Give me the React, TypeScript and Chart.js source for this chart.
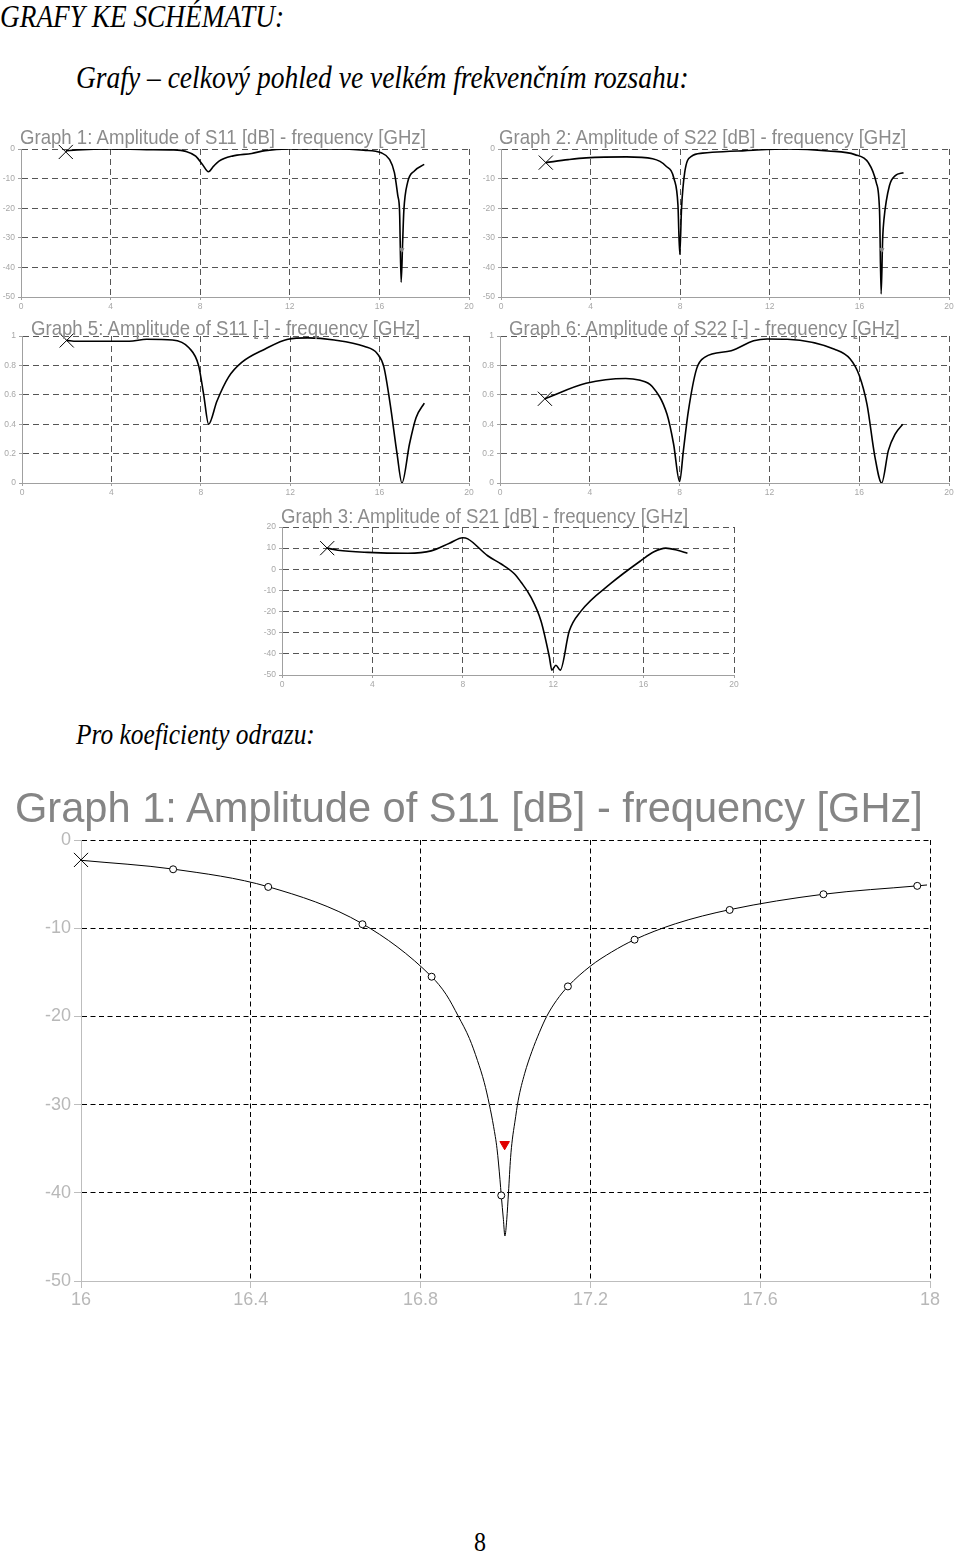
import React, { useEffect, useRef } from "react";
import { Chart, registerables } from "chart.js";

Chart.register(...registerables);

// ---------------- data ----------------
const wideFreqTicks = [0, 4, 8, 12, 16, 20];
const dbTicks = [0, -10, -20, -30, -40, -50];
const linTicks = [0, 0.2, 0.4, 0.6, 0.8, 1];
const s21Ticks = [20, 10, 0, -10, -20, -30, -40, -50];
const zoomFreqTicks = [16, 16.4, 16.8, 17.2, 17.6, 18];

// Graph 1: S11 [dB]
const s11dbFreq = [2.0, 2.5, 4.0, 5.6, 6.8, 7.36, 7.8, 8.1, 8.37, 8.6, 8.84, 9.43, 10.3, 10.9, 11.9, 13.9, 15.3, 16.08, 16.45, 16.67, 16.82, 16.9, 16.97, 17.04, 17.09, 17.26, 17.56, 18.0];
const s11dbVal = [-0.6, -0.3, 0, -0.2, -0.3, -0.8, -2.4, -5.2, -7.7, -5.8, -4.1, -2.4, -1.5, -0.55, 0, 0, -0.4, -1.3, -3.5, -8, -15.7, -21, -45, -31, -21, -11.3, -7.4, -5.2];

// Graph 2: S22 [dB]
const s22dbFreq = [2.0, 3.0, 3.8, 5.6, 6.77, 7.36, 7.73, 7.9, 7.98, 8.06, 8.2, 8.5, 9.0, 9.43, 10.9, 12.8, 14.6, 15.8, 16.4, 16.75, 16.9, 16.97, 17.04, 17.1, 17.34, 17.6, 17.97];
const s22dbVal = [-4.6, -3.6, -3.0, -2.65, -3.3, -5.75, -10.2, -19, -35.6, -20, -8, -2.5, -1.4, -1.1, -0.55, 0, -0.66, -1.9, -4.6, -11.3, -21, -49, -30, -23.5, -12.4, -9, -8];

// Graph 5: S11 [-]
const s11linFreq = [2.0, 2.44, 4.8, 5.58, 6.73, 7.47, 7.9, 8.13, 8.35, 8.72, 9.24, 9.83, 10.86, 11.9, 12.79, 13.97, 15.3, 15.9, 16.19, 16.48, 16.78, 17.0, 17.34, 17.63, 18.0];
const s11linVal = [0.97, 0.964, 0.964, 0.978, 0.973, 0.92, 0.8, 0.6, 0.4, 0.556, 0.72, 0.82, 0.91, 0.978, 0.987, 0.973, 0.93, 0.88, 0.79, 0.53, 0.2, 0.0, 0.267, 0.444, 0.544];

// Graph 6: S22 [-]
const s22linFreq = [2.0, 3.83, 5.6, 6.19, 6.78, 7.44, 7.73, 8.0, 8.17, 8.39, 8.76, 9.13, 10.3, 11.3, 11.9, 12.8, 14.9, 15.6, 16.0, 16.35, 16.7, 17.0, 17.3, 17.6, 17.94];
const s22linVal = [0.573, 0.678, 0.711, 0.7, 0.656, 0.467, 0.267, 0.01, 0.222, 0.489, 0.778, 0.856, 0.9, 0.967, 0.98, 0.978, 0.91, 0.844, 0.733, 0.533, 0.178, 0.0, 0.222, 0.333, 0.4];

// Graph 3: S21 [dB]
const s21dbFreq = [2.0, 2.47, 3.8, 5.57, 6.6, 7.41, 8.0, 8.22, 9.1, 9.7, 10.28, 10.57, 11.0, 11.46, 11.83, 11.94, 12.12, 12.31, 12.71, 13.22, 14.55, 15.88, 16.46, 16.98, 17.5, 17.94];
const s21dbVal = [10.0, 9.0, 8.0, 7.6, 8.7, 12.3, 14.9, 14.4, 6.4, 2.5, -2.1, -6, -12.9, -24.5, -41.5, -47.7, -45.4, -47.7, -29.2, -19.9, -6.7, 4.1, 8.3, 10.0, 9.0, 7.6];

// Zoomed Graph 1: S11 [dB], 16–18 GHz
const zoomFreq = [16.0, 16.217, 16.441, 16.663, 16.826, 16.86, 16.889, 16.915, 16.934, 16.95, 16.962, 16.972, 16.98, 16.987, 16.99, 16.995, 16.9986, 17.003, 17.007, 17.012, 17.016, 17.022, 17.03, 17.045, 17.062, 17.08, 17.097, 17.12, 17.147, 17.2, 17.25, 17.304, 17.4, 17.528, 17.749, 17.97, 17.993];
const zoomVal = [-2.3, -3.3, -5.3, -9.5, -15.5, -17.5, -20, -22.5, -25, -27.5, -30, -32.5, -35, -38.5, -40.3, -43, -44.9, -43, -40, -36, -34, -32, -29.5, -26.5, -24, -21.8, -20, -18.2, -16.6, -14.3, -12.7, -11.3, -9.5, -7.9, -6.15, -5.2, -5.1];
const zoomMarkFreq = [16.217, 16.441, 16.663, 16.826, 16.99, 17.147, 17.304, 17.528, 17.749, 17.97];
const zoomMarkVal = [-3.32, -5.32, -9.55, -15.5, -40.3, -16.6, -11.3, -7.93, -6.15, -5.2];
const zoomStartFreq = [16.0];
const zoomStartVal = [-2.26];
const zoomMinFreq = [16.998];
const zoomMinVal = [-34.5];

const dipMarkFreq = [17.0];
const dipMarkVal = [-34];

// ---------------- helpers ----------------
type P = { x: number; y: number };
const pts = (xs: number[], ys: number[]): P[] => xs.map((x, i) => ({ x, y: ys[i] }));

const lineDs = (data: P[], width: number) => ({
  data,
  borderColor: "#000",
  borderWidth: width,
  pointRadius: 0,
  cubicInterpolationMode: "monotone",
  fill: false,
  order: 2,
});

const markDs = (data: P[], style: string, radius: number, stroke: string, fillC: string, rotation = 0) => ({
  data,
  showLine: false,
  pointStyle: style,
  pointRadius: radius,
  pointBorderColor: stroke,
  pointBackgroundColor: fillC,
  pointBorderWidth: 1,
  pointRotation: rotation,
  clip: false,
  order: 1,
});

const SANS = "'Liberation Sans', Arial, Helvetica, sans-serif";
const SERIF = "'Liberation Serif', 'Times New Roman', Times, serif";

type PlotProps = {
  area: { l: number; r: number; t: number; b: number };
  yw: number;
  xh: number;
  padTop: number;
  padRight: number;
  xMin: number;
  xMax: number;
  yMin: number;
  yMax: number;
  xTicks: number[];
  yTicks: number[];
  fontSize: number;
  tickLen: number;
  padX: number;
  padY: number;
  dash: number[];
  gridColor: string;
  axisColor: string;
  labelColor: string;
  datasets: any[];
};

function Plot(p: PlotProps) {
  const ref = useRef<HTMLCanvasElement>(null);
  const left = p.area.l - p.yw;
  const top = p.area.t - p.padTop;
  const width = p.area.r - p.area.l + p.yw + p.padRight;
  const height = p.area.b - p.area.t + p.padTop + p.xh;

  useEffect(() => {
    if (!ref.current) return;
    const chart = new Chart(ref.current, {
      type: "line",
      data: { datasets: p.datasets },
      options: {
        responsive: false,
        animation: false,
        devicePixelRatio: 1,
        events: [],
        layout: { padding: { left: 0, right: p.padRight, top: p.padTop, bottom: 0 } },
        plugins: { legend: { display: false }, tooltip: { enabled: false }, title: { display: false } },
        scales: {
          x: {
            type: "linear",
            min: p.xMin,
            max: p.xMax,
            afterBuildTicks: (s: any) => {
              s.ticks = p.xTicks.map((v) => ({ value: v }));
            },
            afterFit: (s: any) => {
              s.height = p.xh;
            },
            ticks: {
              color: p.labelColor,
              font: { family: SANS, size: p.fontSize },
              padding: p.padX,
              maxRotation: 0,
              autoSkip: false,
              callback: (v: any) => String(v),
            },
            grid: {
              color: (c: any) => (c.tick && c.tick.value === p.xMin ? "rgba(0,0,0,0)" : p.gridColor),
              tickColor: p.axisColor,
              tickLength: p.tickLen,
              lineWidth: 1,
            },
            border: { display: true, color: p.axisColor, width: 1, dash: p.dash },
          },
          y: {
            type: "linear",
            min: p.yMin,
            max: p.yMax,
            afterBuildTicks: (s: any) => {
              s.ticks = p.yTicks.map((v) => ({ value: v }));
            },
            afterFit: (s: any) => {
              s.width = p.yw;
            },
            ticks: {
              color: p.labelColor,
              font: { family: SANS, size: p.fontSize },
              padding: p.padY,
              autoSkip: false,
              callback: (v: any) => String(v),
            },
            grid: {
              color: (c: any) => (c.tick && c.tick.value === p.yMin ? "rgba(0,0,0,0)" : p.gridColor),
              tickColor: p.axisColor,
              tickLength: p.tickLen,
              lineWidth: 1,
            },
            border: { display: true, color: p.axisColor, width: 1, dash: p.dash },
          },
        },
      } as any,
    });
    return () => chart.destroy();
  }, []);

  return (
    <canvas
      ref={ref}
      width={width}
      height={height}
      style={{ position: "absolute", left, top, width, height, display: "block" }}
    />
  );
}

type TxtProps = {
  x: number;
  baseline: number;
  size: number;
  serif?: boolean;
  italic?: boolean;
  color?: string;
  sy?: number;
  w?: number;
  center?: boolean;
  children: React.ReactNode;
};

function Txt(t: TxtProps) {
  const k = t.serif ? 0.8375 : 0.8465;
  const off = k * t.size;
  return (
    <div
      style={{
        position: "absolute",
        left: t.x,
        top: t.baseline - off,
        width: t.w,
        textAlign: t.center ? "center" : "left",
        fontSize: t.size,
        lineHeight: `${t.size}px`,
        fontFamily: t.serif ? SERIF : SANS,
        fontStyle: t.italic ? "italic" : "normal",
        color: t.color || "#000",
        whiteSpace: "nowrap",
        transform: `scaleY(${t.sy || 1})`,
        transformOrigin: `0 ${off}px`,
        margin: 0,
      }}
    >
      {t.children}
    </div>
  );
}

const smallBase = {
  fontSize: 8.5,
  tickLen: 3,
  padX: 2,
  padY: 3,
  dash: [6, 4],
  gridColor: "#555",
  axisColor: "#a0a0a0",
  labelColor: "#a8a8a8",
  xMin: 0,
  xMax: 20,
  xTicks: wideFreqTicks,
  xh: 14,
  padTop: 8,
};

const X_R = 10;

export default function App() {
  return (
    <div
      style={{
        position: "absolute",
        left: 0,
        top: 0,
        width: 960,
        height: 1554,
        background: "#fff",
        overflow: "hidden",
      }}
    >
      <Txt x={0} baseline={28} size={27.3} serif italic sy={1.15}>
        GRAFY KE SCHÉMATU:
      </Txt>
      <Txt x={76} baseline={88} size={27.5} serif italic sy={1.15}>
        Grafy – celkový pohled ve velkém frekvenčním rozsahu:
      </Txt>

      <Plot
        {...smallBase}
        area={{ l: 21, r: 472, t: 146, b: 297 }}
        yw={21}
        padRight={8}
        yMin={-50}
        yMax={0}
        yTicks={dbTicks}
        datasets={[
          lineDs(pts(s11dbFreq, s11dbVal), 1.6),
          markDs(pts([s11dbFreq[0]], [-1.0]), "crossRot", X_R, "#000", "#000"),
          markDs(pts(dipMarkFreq, dipMarkVal), "triangle", 2.5, "#888", "#888", 180),
        ]}
      />
      <Plot
        {...smallBase}
        area={{ l: 501, r: 952, t: 146, b: 297 }}
        yw={21}
        padRight={8}
        yMin={-50}
        yMax={0}
        yTicks={dbTicks}
        datasets={[
          lineDs(pts(s22dbFreq, s22dbVal), 1.6),
          markDs(pts([s22dbFreq[0]], [s22dbVal[0]]), "crossRot", X_R, "#000", "#000"),
          markDs(pts(dipMarkFreq, dipMarkVal), "triangle", 2.5, "#888", "#888", 180),
        ]}
      />
      <Plot
        {...smallBase}
        area={{ l: 22, r: 473, t: 333, b: 483 }}
        yw={22}
        padRight={7}
        yMin={0}
        yMax={1}
        yTicks={linTicks}
        datasets={[
          lineDs(pts(s11linFreq, s11linVal), 1.6),
          markDs(pts([s11linFreq[0]], [s11linVal[0]]), "crossRot", X_R, "#000", "#000"),
        ]}
      />
      <Plot
        {...smallBase}
        area={{ l: 500, r: 953, t: 333, b: 483 }}
        yw={20}
        padRight={7}
        yMin={0}
        yMax={1}
        yTicks={linTicks}
        datasets={[
          lineDs(pts(s22linFreq, s22linVal), 1.6),
          markDs(pts([s22linFreq[0]], [s22linVal[0]]), "crossRot", X_R, "#000", "#000"),
        ]}
      />
      <Plot
        {...smallBase}
        area={{ l: 282, r: 735, t: 524, b: 675 }}
        yw={27}
        padRight={10}
        yMin={-50}
        yMax={20}
        yTicks={s21Ticks}
        datasets={[
          lineDs(pts(s21dbFreq, s21dbVal), 1.6),
          markDs(pts([s21dbFreq[0]], [s21dbVal[0]]), "crossRot", X_R, "#000", "#000"),
        ]}
      />

      <Txt x={20} baseline={145} size={18.6} color="#8c8c8c" sy={1.08}>
        Graph 1: Amplitude of S11 [dB] - frequency [GHz]
      </Txt>
      <Txt x={499} baseline={145} size={18.6} color="#8c8c8c" sy={1.08}>
        Graph 2: Amplitude of S22 [dB] - frequency [GHz]
      </Txt>
      <Txt x={31} baseline={336} size={18.6} color="#8c8c8c" sy={1.08}>
        Graph 5: Amplitude of S11 [-] - frequency [GHz]
      </Txt>
      <Txt x={509} baseline={336} size={18.6} color="#8c8c8c" sy={1.08}>
        Graph 6: Amplitude of S22 [-] - frequency [GHz]
      </Txt>
      <Txt x={281} baseline={524} size={18.6} color="#8c8c8c" sy={1.08}>
        Graph 3: Amplitude of S21 [dB] - frequency [GHz]
      </Txt>

      <Txt x={76} baseline={744} size={25.4} serif italic sy={1.15}>
        Pro koeficienty odrazu:
      </Txt>

      <Plot
        area={{ l: 81, r: 930, t: 840, b: 1281 }}
        yw={81}
        xh={30}
        padTop={20}
        padRight={30}
        xMin={16}
        xMax={18}
        yMin={-50}
        yMax={0}
        xTicks={zoomFreqTicks}
        yTicks={dbTicks}
        fontSize={18}
        tickLen={7}
        padX={1}
        padY={3}
        dash={[5, 3.5]}
        gridColor="#000"
        axisColor="#bdbdbd"
        labelColor="#b8b8b8"
        datasets={[
          lineDs(pts(zoomFreq, zoomVal), 1),
          markDs(pts(zoomMarkFreq, zoomMarkVal), "circle", 3.5, "#000", "#fff"),
          markDs(pts(zoomStartFreq, zoomStartVal), "crossRot", X_R, "#000", "#000"),
          markDs(pts(zoomMinFreq, zoomMinVal), "triangle", 5.5, "#e00000", "#e00000", 180),
        ]}
      />
      <Txt x={15} baseline={822} size={41.6} color="#858585">
        Graph 1: Amplitude of S11 [dB] - frequency [GHz]
      </Txt>

      <Txt x={430} baseline={1551} size={24} serif w={100} center sy={1.15}>
        8
      </Txt>
    </div>
  );
}
